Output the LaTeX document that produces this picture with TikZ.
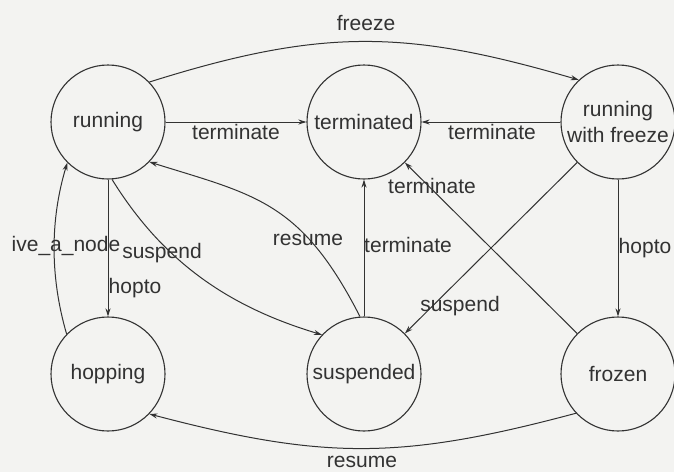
\documentclass[tikz,border=0pt]{standalone}
\usepackage{fontspec}
\setmainfont{Liberation Sans}
\usetikzlibrary{arrows.meta}
\definecolor{paper}{RGB}{243,243,241}
\definecolor{ink}{RGB}{50,50,50}
\begin{document}
\begin{tikzpicture}[x=1pt,y=-1pt,
  state/.style={circle, draw=ink, line width=1.1pt, minimum size=114pt,
    inner sep=0pt, font=\fontsize{21}{26}\selectfont, text=ink},
  lab/.style={anchor=base, inner sep=0pt, font=\fontsize{21}{26}\selectfont, text=ink},
  trans/.style={draw=ink, line width=1pt, -{Stealth[length=8pt,width=5pt]}}]
\fill[paper] (0,0) rectangle (674,472);
\useasboundingbox (0,0) rectangle (674,472);

% states
\node[state] (run)  at (108,122) {running};
\node[state] (term) at (364,122) {terminated};
\node[state, align=center] (rwf) at (618,122) {running\\with freeze};
\node[state] (hop)  at (108,374) {hopping};
\node[state] (susp) at (364,374) {suspended};
\node[state] (froz) at (618,374) {frozen};

% transitions
\draw[trans] (run.44) .. controls (324,27) and (408,30) .. (rwf.133);
\draw[trans] (run) -- (term);
\draw[trans] (rwf) -- (term);
\draw[trans] (hop.136) .. controls (50,277) and (50,220) .. (run.225);
\draw[trans] (run.south) -- (hop.north);
\draw[trans] (run.274) .. controls (162,260) and (226,306) .. (susp.137);
\draw[trans] (susp.94) .. controls (301,201) and (255,195) .. (run.316);
\draw[trans] (susp) -- (term);
\draw[trans] (froz) -- (term);
\draw[trans] (rwf) -- (susp);
\draw[trans] (rwf) -- (froz);
\draw[trans] (froz.223) .. controls (401,460) and (324,460) .. (hop.316);

% transition labels
\node[lab] (lfreeze) at (366,30) {freeze};
\node[lab] (ltermA) at (236,139) {terminate};
\node[lab] (ltermB) at (492,139) {terminate};
\node[lab] (ltermC) at (432,193) {terminate};
\node[lab] (ltermD) at (408,252) {terminate};
\node[lab] (lresA) at (308,245) {resume};
\node[lab] (lsusA) at (162,258) {suspend};
\node[lab] (lgive) at (66,251) {ive\_a\_node};
\node[lab] (lhopA) at (135,293) {hopto};
\node[lab] (lsusB) at (460,311) {suspend};
\node[lab] (lhopB) at (645,253) {hopto};
\node[lab] (lresB) at (362,467) {resume};
\end{tikzpicture}
\end{document}
